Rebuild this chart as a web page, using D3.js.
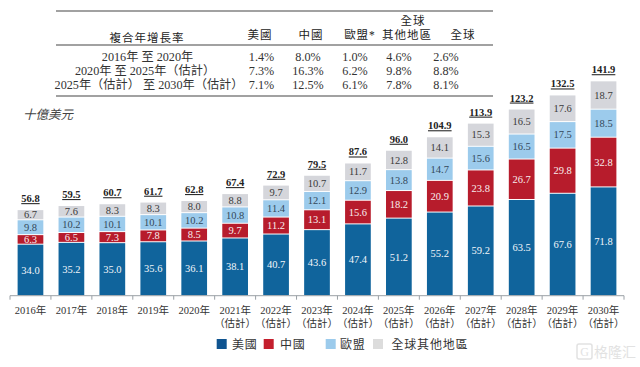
<!DOCTYPE html>
<html>
<head>
<meta charset="utf-8">
<script src="https://cdnjs.cloudflare.com/ajax/libs/d3/7.8.5/d3.min.js"></script>
<style>
  html, body { margin: 0; padding: 0; background: #fff; }
  text { font-family: "Liberation Serif", "Noto Sans CJK TC", serif; }
</style>
</head>
<body>
<div id="chart"></div>
<script>
const years = ["2016年","2017年","2018年","2019年","2020年","2021年","2022年","2023年","2024年","2025年","2026年","2027年","2028年","2029年","2030年"];
const estimated = [false,false,false,false,false,true,true,true,true,true,true,true,true,true,true];
const usa = [34.0,35.2,35.0,35.6,36.1,38.1,40.7,43.6,47.4,51.2,55.2,59.2,63.5,67.6,71.8];
const china = [6.3,6.5,7.3,7.8,8.5,9.7,11.2,13.1,15.6,18.2,20.9,23.8,26.7,29.8,32.8];
const eu = [9.8,10.2,10.1,10.1,10.2,10.8,11.4,12.1,12.9,13.8,14.7,15.6,16.5,17.5,18.5];
const rest = [6.7,7.6,8.3,8.3,8.0,8.8,9.7,10.7,11.7,12.8,14.1,15.3,16.5,17.6,18.7];
const totals = [56.8,59.5,60.7,61.7,62.8,67.4,72.9,79.5,87.6,96.0,104.9,113.9,123.2,132.5,141.9];

const seriesNames = ["美國","中國","歐盟","全球其他地區"];
const seriesColors = ["#10649c","#b71c2c","#9ccbec","#d5d6db"];
const labelColors = ["#f2f6fa","#f8eeee","#33485a","#3a3a3a"];
const legendColors = ["#0f5490","#c41f2d","#9ccbec","#dcdcdc"];

const cagrRows = ["2016年 至 2020年","2020年 至 2025年（估計）","2025年（估計） 至 2030年（估計）"];
const cagrUsa = ["1.4%","7.3%","7.1%"];
const cagrChina = ["8.0%","16.3%","12.5%"];
const cagrEu = ["1.0%","6.2%","6.1%"];
const cagrRest = ["4.6%","9.8%","7.8%"];
const cagrWorld = ["2.6%","8.8%","8.1%"];

const width = 640, height = 367;
const svg = d3.select("#chart").append("svg")
    .attr("width", width).attr("height", height)
    .style("display", "block");

const axisY = 295.7;
const x = d3.scaleBand().domain(years).range([10, 624]).paddingInner(0.372).paddingOuter(0.186);
const y = d3.scaleLinear().domain([0, 141.9]).range([axisY, 80.7]);

// stacked bars
const table = years.map((yr, i) => ({ year: yr, 0: usa[i], 1: china[i], 2: eu[i], 3: rest[i] }));
const stacked = d3.stack().keys([0, 1, 2, 3])(table);

const layers = svg.selectAll("g.layer").data(stacked).enter().append("g").attr("class", "layer");
layers.selectAll("rect")
    .data(d => d)
    .enter().append("rect")
    .attr("x", d => x(d.data.year))
    .attr("width", x.bandwidth())
    .attr("y", d => y(d[1]) + 0.5)
    .attr("height", d => Math.max(0, y(d[0]) - y(d[1]) - 1))
    .attr("fill", function () { return seriesColors[d3.select(this.parentNode).datum().key]; });

layers.selectAll("text")
    .data(d => d)
    .enter().append("text")
    .attr("x", d => x(d.data.year) + x.bandwidth() / 2)
    .attr("y", d => (y(d[0]) + y(d[1])) / 2 + 3.6)
    .attr("text-anchor", "middle")
    .attr("font-size", 10.5)
    .attr("fill", function () { return labelColors[d3.select(this.parentNode).datum().key]; })
    .text(d => (d[1] - d[0]).toFixed(1));

// totals, underlined
svg.selectAll("text.total").data(totals).enter().append("text")
    .attr("class", "total")
    .attr("x", (d, i) => x(years[i]) + x.bandwidth() / 2)
    .attr("y", d => y(d) - 7.5)
    .attr("text-anchor", "middle")
    .attr("font-size", 10.5)
    .attr("font-weight", "bold")
    .attr("fill", "#222")
    .attr("text-decoration", "underline")
    .text(d => d.toFixed(1));

// x axis with ticks at band edges
const axisG = svg.append("g");
axisG.append("line")
    .attr("x1", 10).attr("x2", 624).attr("y1", axisY).attr("y2", axisY)
    .attr("stroke", "#9aa0a6").attr("stroke-width", 1);
axisG.selectAll("line.tick").data(d3.range(years.length + 1)).enter().append("line")
    .attr("class", "tick")
    .attr("x1", i => 10 + x.step() * i).attr("x2", i => 10 + x.step() * i)
    .attr("y1", axisY).attr("y2", axisY + 4)
    .attr("stroke", "#9aa0a6");
axisG.selectAll("text.year").data(years).enter().append("text")
    .attr("class", "year")
    .attr("x", d => x(d) + x.bandwidth() / 2)
    .attr("y", 314)
    .attr("text-anchor", "middle")
    .attr("font-size", 10.5)
    .attr("fill", "#333")
    .text(d => d);
axisG.selectAll("text.est").data(years.filter((d, i) => estimated[i])).enter().append("text")
    .attr("class", "est")
    .attr("x", d => x(d) + x.bandwidth() / 2)
    .attr("y", 327)
    .attr("text-anchor", "middle")
    .attr("font-size", 10.5)
    .attr("fill", "#333")
    .text("（估計）");

// unit label
svg.append("text")
    .attr("x", 23).attr("y", 119)
    .attr("font-size", 12.5)
    .attr("font-style", "italic")
    .attr("fill", "#444")
    .text("十億美元");

// legend
const legendG = svg.append("g");
seriesNames.forEach((name, i) => {
    const lx = [216.7, 263.7, 325.7, 373][i];
    const tx = [232, 280, 340, 391.5][i];
    legendG.append("rect")
        .attr("x", lx).attr("y", 339).attr("width", 10).attr("height", 10)
        .attr("fill", legendColors[i]);
    legendG.append("text")
        .attr("x", tx).attr("y", 348.5)
        .attr("font-size", 12).attr("letter-spacing", 0.8)
        .attr("fill", "#333")
        .text(name);
});

// CAGR table
const rule = yy => svg.append("line")
    .attr("x1", 56).attr("x2", 493).attr("y1", yy).attr("y2", yy)
    .attr("stroke", "#444").attr("stroke-width", 1.2);
[11, 45, 96].forEach(rule);

const head = (tx, ty, s) => svg.append("text")
    .attr("x", tx).attr("y", ty)
    .attr("text-anchor", "middle")
    .attr("font-size", 11.5).attr("letter-spacing", 1)
    .attr("fill", "#222")
    .text(s);
head(147, 42, "複合年增長率");
head(260, 39, "美國");
head(311, 39, "中國");
head(360, 39, "歐盟*");
head(413, 25, "全球");
head(407, 39, "其他地區");
head(463, 39, "全球");

const rowY = [61, 75, 89];
const rowCenter = [147.5, 145, 149];
const cols = [[261.5, cagrUsa], [308, cagrChina], [355, cagrEu], [399, cagrRest], [446, cagrWorld]];
cagrRows.forEach((r, i) => {
    svg.append("text")
        .attr("x", rowCenter[i]).attr("y", rowY[i])
        .attr("text-anchor", "middle")
        .attr("font-size", 12.2)
        .attr("fill", "#333")
        .text(r);
    cols.forEach(c => {
        svg.append("text")
            .attr("x", c[0]).attr("y", rowY[i])
            .attr("text-anchor", "middle")
            .attr("font-size", 12.2)
            .attr("fill", "#333")
            .text(c[1][i]);
    });
});

// watermark
svg.append("rect")
    .attr("x", 577).attr("y", 344).attr("width", 15).attr("height", 15).attr("rx", 2)
    .attr("fill", "none").attr("stroke", "#e2e2e2").attr("stroke-width", 1.5);
svg.append("text")
    .attr("x", 584.5).attr("y", 356)
    .attr("text-anchor", "middle")
    .attr("font-size", 12)
    .attr("font-family", "Noto Sans CJK SC")
    .attr("fill", "#e2e2e2")
    .text("G");
svg.append("text")
    .attr("x", 594).attr("y", 357)
    .attr("font-size", 14)
    .attr("font-family", "Noto Sans CJK SC")
    .attr("fill", "#e2e2e2")
    .text("格隆汇");
</script>
</body>
</html>
